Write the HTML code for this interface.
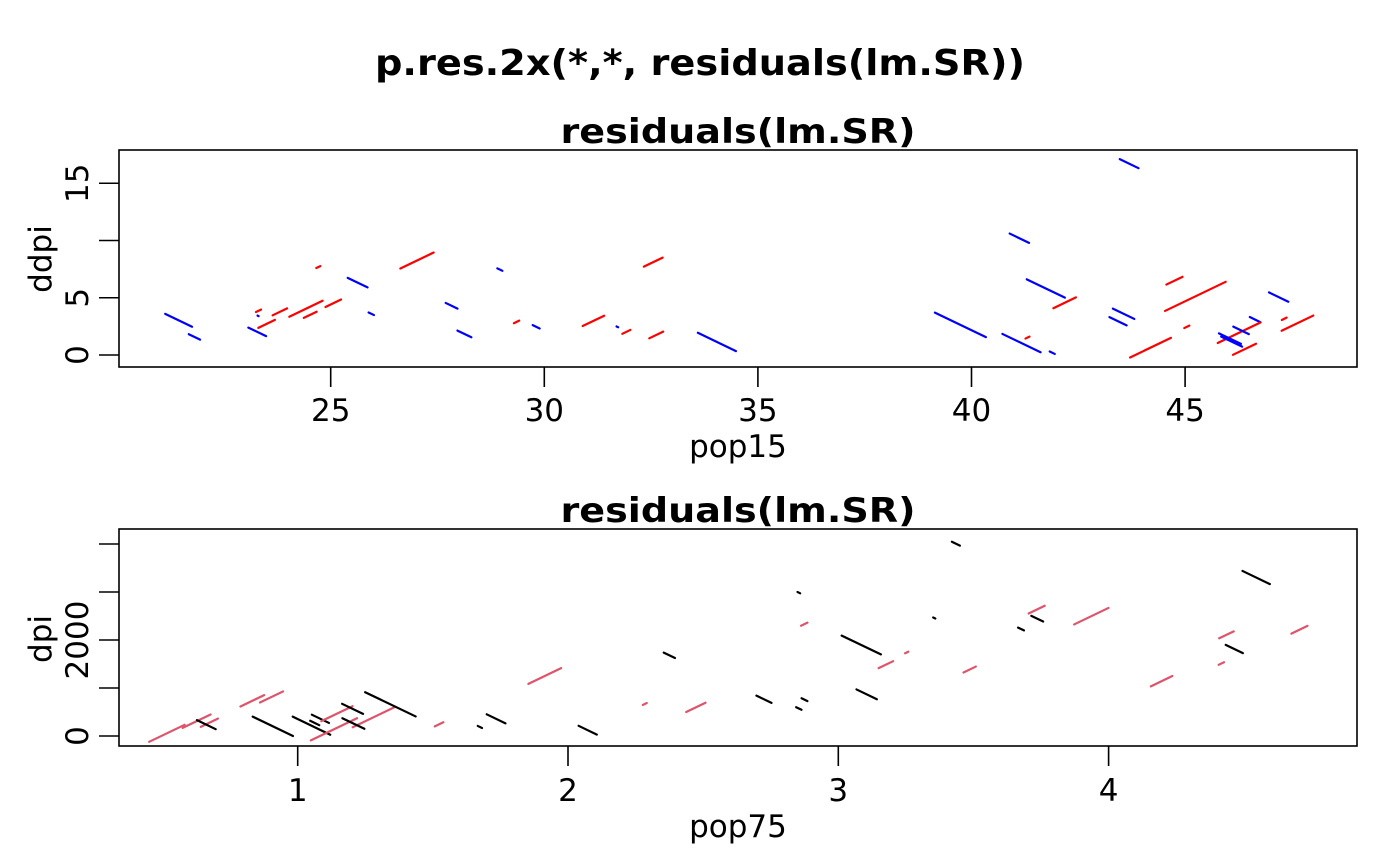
<!DOCTYPE html>
<html><head><meta charset="utf-8"><style>
body{margin:0;background:#fff}
svg{display:block}
text{font-family:"DejaVu Sans","Liberation Sans",sans-serif;fill:#000}
</style></head><body>
<svg id="chart" width="1400" height="866" viewBox="0 0 1400 866" xmlns="http://www.w3.org/2000/svg">
<rect width="1400" height="866" fill="#fff"/>
<text x="700" y="75" text-anchor="middle" font-size="36" font-weight="bold" textLength="650" lengthAdjust="spacingAndGlyphs">p.res.2x(*,*, residuals(lm.SR))</text>
<g id="p1"></g>
<g id="p2"></g>
</svg>
<script>
// Top panel data: pop15, ddpi, residual
const pop15 = [21.44,21.81,23.28,23.50,23.31,23.30,23.81,24.42,24.52,25.06,24.71,27.02,25.63,25.95,27.83,28.96,28.13,29.35,29.81,31.15,31.71,31.92,32.62,32.55,34.04,
  43.69,41.12,41.74,42.18,39.74,41.17,41.31,41.89,43.56,43.43,44.75,45.24,44.19,45.04,47.19,47.32,47.63,46.64,46.26,46.31,46.05,46.09,46.39];
const ddpi = [3.03,1.58,2.02,2.72,3.86,3.42,3.77,4.04,3.51,4.52,7.68,8.25,6.32,3.6,4.30,7.46,1.84,2.89,2.46,2.98,2.46,2.02,1.75,8.11,1.14,
  16.71,10.2,5.81,4.56,2.63,1.04,1.52,0.2,3.6,2.95,6.49,5.12,0.64,2.46,5.06,3.16,2.78,3.09,1.94,2.15,1.43,1.17,0.5];
const res1 = [-5.0,-2.1,-3.3,3.1,0.95,-0.2,2.7,6.2,2.4,2.9,0.75,6.2,-3.7,-1.0,-2.2,-0.95,-2.6,1.0,-1.3,4.0,-0.3,1.5,2.6,3.5,-7.1,
  -3.5,-3.6,-7.1,4.2,-9.5,-7.1,0.75,-0.95,-4.0,-3.2,3.0,11.3,7.6,0.95,-3.6,0.9,5.9,-2.0,7.9,-2.9,-4.1,-3.9,4.3];
const xTicks1 = [25,30,35,40,45];
const yTicks1 = [0,5,10,15];
const yLabels1 = ["0","5","","15"];

// Bottom panel data: pop75, dpi, residual
const pop75 = [0.516,0.626,0.673,0.662,0.832,0.903,0.908,1.051,1.084,1.063,1.134,1.281,1.145,1.203,1.206,1.343,1.523,1.674,1.734,2.073,1.914,2.375,2.284,2.473,
  3.435,2.854,2.874,3.085,3.176,3.253,3.355,3.486,2.725,2.875,2.854,3.105,3.676,3.734,3.736,3.936,4.546,4.436,4.465,4.417,4.196,4.706];
const dpi = [56,309,277,236,733,813,202,215,358,271,140,392,465,566,260,660,244,188,358,121,1250,1681,667,597,
  4006,2986,2330,1896,1486,1740,2458,1385,765,757,573,868,2229,2632,2444,2496,3302,2108,1813,1510,1142,2213];
const res2 = [6.6,5.2,3.2,-3.5,4.4,4.3,-7.5,-7.0,-3.2,-1.7,8.6,7.8,5.8,-3.9,-4.1,-9.4,1.6,-0.8,-3.5,-3.4,6.1,-2.1,0.75,3.6,
  -1.5,-0.5,1.2,-7.3,2.7,0.6,-0.4,2.3,-2.8,-1.1,-1.0,-3.8,-1.1,3.0,-2.2,6.4,-5.1,2.7,-3.2,1.0,4.0,3.0];
const xTicks2 = [1,2,3,4];
const yTicks2 = [0,1000,2000,3000,4000];
const yLabels2 = ["0","","2000","",""];

const NS="http://www.w3.org/2000/svg";
function mk(parent,tag,attrs){const e=document.createElementNS(NS,tag);for(const k in attrs)e.setAttribute(k,attrs[k]);parent.appendChild(e);return e;}

function panel(g,cfg){
  const {L,R,T,B,sx,sy,xs,ys,rs,xt,yt,yl,title,titleY,xlab,ylab,posCol,negCol,tickBase} = cfg;
  // segments
  const k=5.37, slope=0.48;
  for(let i=0;i<xs.length;i++){
    const cx=sx(xs[i]), cy=sy(ys[i]);
    const hdx=k*Math.abs(rs[i])/2, hdy=hdx*slope*(rs[i]>=0?-1:1);
    const ln=mk(g,'line',{x1:cx-hdx,y1:cy-hdy,x2:cx+hdx,y2:cy+hdy,stroke:rs[i]>=0?posCol:negCol,'stroke-width':2.2,'stroke-linecap':'round'});
    
    
  }
  const fr=mk(g,'rect',{x:L,y:T,width:R-L,height:B-T,fill:'none',stroke:'#000','stroke-width':1.6});
  
  
  xt.forEach(v=>{
    const x=sx(v);
    const t=mk(g,'line',{x1:x,y1:B,x2:x,y2:B+20,stroke:'#000','stroke-width':1.6});
    
    
    const tx=mk(g,'text',{x:x,y:tickBase,'text-anchor':'middle','font-size':31});
    tx.textContent=String(v);
    
    
  });
  yt.forEach((v,i)=>{
    const y=sy(v);
    const t=mk(g,'line',{x1:L-20,y1:y,x2:L,y2:y,stroke:'#000','stroke-width':1.6});
    
    
    if(yl[i]){
      const tx=mk(g,'text',{x:0,y:0,'text-anchor':'middle','font-size':31,transform:`translate(88,${y}) rotate(-90)`});
      tx.textContent=yl[i];
      
      
    }
  });
  const tt=mk(g,'text',{x:738,y:titleY,'text-anchor':'middle','font-size':34,'font-weight':'bold',textLength:355,lengthAdjust:'spacingAndGlyphs'});
  tt.textContent=title;
  
  
  const xl=mk(g,'text',{x:738,y:tickBase+36,'text-anchor':'middle','font-size':31});
  xl.textContent=xlab;
  
  
  const yc=(T+B)/2;
  const yla=mk(g,'text',{x:0,y:0,'text-anchor':'middle','font-size':31,transform:`translate(51,${ylab[1]}) rotate(-90)`});
  yla.textContent=ylab[0];
  
  
}

panel(document.getElementById('p1'),{
  L:119,R:1357,T:150,B:367,
  sx:v=>330.7+(v-25)*42.72, sy:v=>355-v*11.45,
  xs:pop15,ys:ddpi,rs:res1,xt:xTicks1,yt:yTicks1,yl:yLabels1,
  title:'residuals(lm.SR)',titleY:143,xlab:'pop15',ylab:['ddpi',259],
  posCol:'#ff0000',negCol:'#0000ff',tickBase:421
});
panel(document.getElementById('p2'),{
  L:119,R:1357,T:529,B:746,
  sx:v=>297.7+(v-1)*270.3, sy:v=>736-v*0.048,
  xs:pop75,ys:dpi,rs:res2,xt:xTicks2,yt:yTicks2,yl:yLabels2,
  title:'residuals(lm.SR)',titleY:522,xlab:'pop75',ylab:['dpi',639],
  posCol:'#DF536B',negCol:'#000000',tickBase:801
});
</script>
</body></html>
